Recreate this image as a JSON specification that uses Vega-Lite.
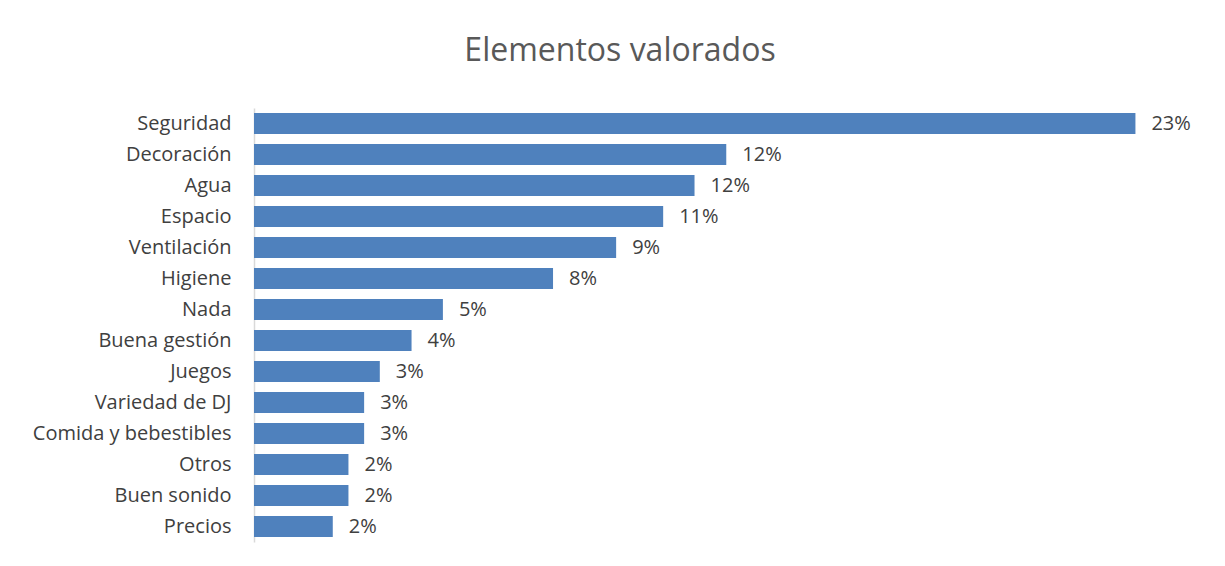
{
  "$schema": "https://vega.github.io/schema/vega-lite/v6.json",
  "autosize": "none",
  "padding": {"left": 254, "top": 108, "right": 15, "bottom": 24},
  "width": 956,
  "height": 434,
  "background": "white",
  "config": {"view": {"stroke": null}, "font": "Open Sans"},
  "title": {
    "text": "Elementos valorados",
    "anchor": "middle",
    "frame": "group",
    "dx": -112,
    "offset": 40,
    "fontSize": 32,
    "font": "Open Sans",
    "fontWeight": "normal",
    "color": "#595959"
  },
  "data": {
    "values": [
      {"elemento": "Seguridad", "valor": 0.2305},
      {"elemento": "Decoración", "valor": 0.1235},
      {"elemento": "Agua", "valor": 0.1152},
      {"elemento": "Espacio", "valor": 0.107},
      {"elemento": "Ventilación", "valor": 0.0947},
      {"elemento": "Higiene", "valor": 0.0782},
      {"elemento": "Nada", "valor": 0.0494},
      {"elemento": "Buena gestión", "valor": 0.0412},
      {"elemento": "Juegos", "valor": 0.0329},
      {"elemento": "Variedad de DJ", "valor": 0.0288},
      {"elemento": "Comida y bebestibles", "valor": 0.0288},
      {"elemento": "Otros", "valor": 0.0247},
      {"elemento": "Buen sonido", "valor": 0.0247},
      {"elemento": "Precios", "valor": 0.0206}
    ]
  },
  "encoding": {
    "y": {
      "field": "elemento",
      "type": "nominal",
      "sort": null,
      "scale": {"paddingInner": 0.32, "paddingOuter": 0.16},
      "axis": {
        "title": null,
        "ticks": false,
        "labelPadding": 23,
        "labelFontSize": 20,
        "labelLimit": 0,
        "labelFont": "Open Sans",
        "labelColor": "#404040",
        "domainColor": "#d9d9d9",
        "domainWidth": 1.5
      }
    },
    "x": {
      "field": "valor",
      "type": "quantitative",
      "scale": {"domain": [0, 0.25], "nice": false},
      "axis": null
    }
  },
  "layer": [
    {"mark": {"type": "bar", "color": "#4F81BD"}},
    {
      "mark": {"type": "text", "align": "left", "baseline": "middle", "dx": 16, "fontSize": 20, "font": "Open Sans", "color": "#404040"},
      "encoding": {"text": {"field": "valor", "type": "quantitative", "format": ".0%"}}
    }
  ]
}
